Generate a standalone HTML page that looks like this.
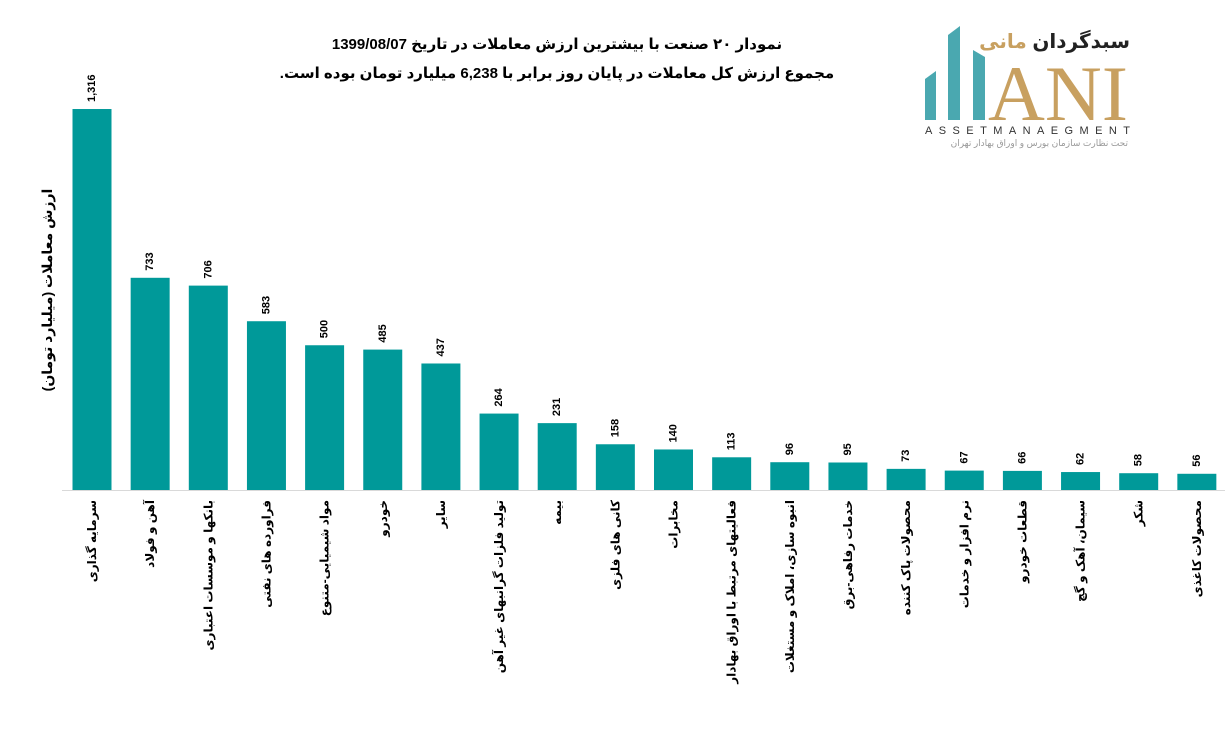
<!DOCTYPE html>
<html><head><meta charset="utf-8"><style>
body{margin:0;background:#fff;width:1225px;height:745px;overflow:hidden}
svg text{font-family:"Liberation Sans","DejaVu Sans",sans-serif}
</style></head><body>
<svg width="1225" height="745" xmlns="http://www.w3.org/2000/svg">
<text x="557" y="49" direction="rtl" text-anchor="middle" font-size="15" font-weight="bold">نمودار ۲۰ صنعت با بیشترین ارزش معاملات در تاریخ 1399/08/07</text>
<text x="557" y="78" direction="rtl" text-anchor="middle" font-size="15" font-weight="bold">مجموع ارزش کل معاملات در پایان روز برابر با 6,238 میلیارد تومان بوده است.</text>
<text transform="translate(47,290) rotate(-90)" text-anchor="middle" dominant-baseline="central" font-size="14" font-weight="bold">ارزش معاملات (میلیارد تومان)</text>
<line x1="62" y1="490.5" x2="1225" y2="490.5" stroke="#d9d9d9"/>
<g id="bars" fill="#009999"></g>
<g id="vals" font-size="11" font-weight="bold"></g>
<g id="labs" font-size="12" font-weight="bold"></g>
<!-- logo -->
<polygon points="925,79 936,71 936,120 925,120" fill="#4aa8b0"/>
<polygon points="948,35 960,26 960,120 948,120" fill="#4aa8b0"/>
<polygon points="973,50 985,57 985,120 973,120" fill="#4aa8b0"/>
<text x="1130" y="48" text-anchor="end" font-size="20" font-weight="bold" fill="#222">سبدگردان <tspan fill="#c8a060">مانی</tspan></text>
<text x="1058" y="120" text-anchor="middle" font-size="78" fill="#c8a060" style="font-family:'Liberation Serif',serif" textLength="140" lengthAdjust="spacingAndGlyphs">ANI</text>
<text x="925" y="134" font-size="11" fill="#333" textLength="205" lengthAdjust="spacing">ASSETMANAEGMENT</text>
<text x="1128" y="146" text-anchor="end" font-size="9" fill="#999">تحت نظارت سازمان بورس و اوراق بهادار تهران</text>
</svg>
<script>
const d=[[1316,"سرمایه گذاری"],[733,"آهن و فولاد"],[706,"بانکها و موسسات اعتباری"],[583,"فراورده های نفتی"],[500,"مواد شیمیایی-متنوع"],[485,"خودرو"],[437,"سایر"],[264,"تولید فلزات گرانبهای غیر آهن"],[231,"بیمه"],[158,"کانی های فلزی"],[140,"مخابرات"],[113,"فعالیتهای مرتبط با اوراق بهادار"],[96,"انبوه سازی، املاک و مستغلات"],[95,"خدمات رفاهی-برق"],[73,"محصولات پاک کننده"],[67,"نرم افزار و خدمات"],[66,"قطعات خودرو"],[62,"سیمان، آهک و گچ"],[58,"شکر"],[56,"محصولات کاغذی"]];
const ns="http://www.w3.org/2000/svg";
const B=document.getElementById("bars"),V=document.getElementById("vals"),L=document.getElementById("labs");
d.forEach((e,i)=>{const cx=92+i*58.15,h=e[0]*0.2895,top=490-h;
const r=document.createElementNS(ns,"rect");r.setAttribute("x",cx-19.5);r.setAttribute("y",top);r.setAttribute("width",39);r.setAttribute("height",h);B.appendChild(r);
const t=document.createElementNS(ns,"text");t.setAttribute("transform",`translate(${cx},${top-7}) rotate(-90)`);t.setAttribute("dominant-baseline","central");t.textContent=e[0].toLocaleString("en-US");V.appendChild(t);
const l=document.createElementNS(ns,"text");l.setAttribute("transform",`translate(${cx},500) rotate(-90)`);l.setAttribute("text-anchor","end");l.setAttribute("dominant-baseline","central");l.textContent=e[1];L.appendChild(l);});
</script>
</body></html>
